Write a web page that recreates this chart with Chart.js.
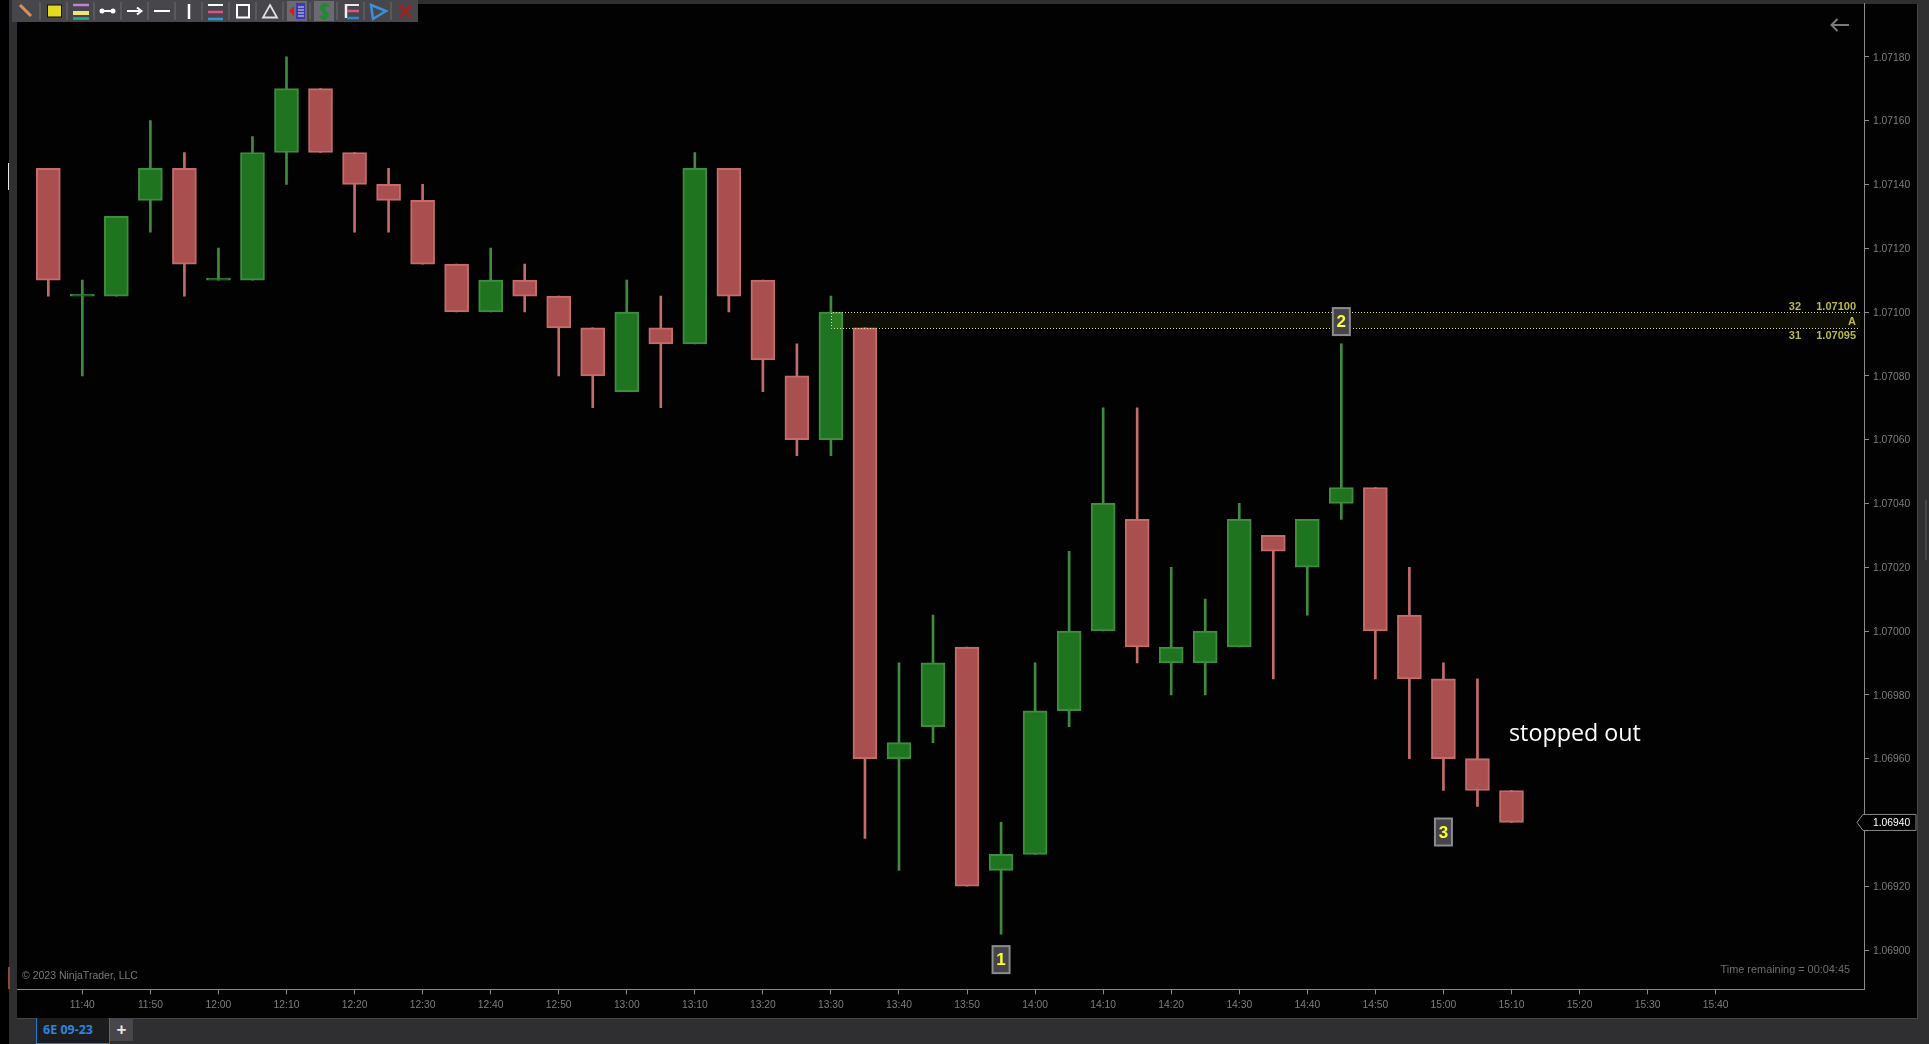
<!DOCTYPE html>
<html>
<head>
<meta charset="utf-8">
<title>6E 09-23</title>
<script src="https://cdn.jsdelivr.net/npm/chart.js@4"></script>
<style>
  html, body { margin: 0; background: #000; overflow: hidden; }
  .box { position: absolute; }
  #wrap { position: absolute; left: 0; top: 0; width: 1929px; height: 1044px; }
  #tab { left: 36px; top: 1018px; width: 72px; height: 25px; background: #1c1c1f; border: 1px solid #1f78c8; border-top: 0;
    color: #2a86de; font: bold 12.5px "Open Sans", sans-serif; line-height: 23px; text-indent: 6px; }
  #plus { left: 110px; top: 1019px; width: 23px; height: 22px; background: #47474b; color: #e6e6e6;
    font: bold 17px "Liberation Sans", sans-serif; line-height: 22px; text-align: center; }
</style>
</head>
<body>
<div class="box" style="left:9px;top:0;width:1920px;height:1044px;background:#2f2f31"></div>
<div class="box" style="left:17px;top:4px;width:1900px;height:1014px;background:#020202"></div>
<div class="box" style="left:17px;top:1018px;width:1901px;height:1px;background:#464648"></div>
<div class="box" style="left:1917px;top:4px;width:1px;height:1015px;background:#464648"></div>
<div class="box" style="left:1925px;top:500px;width:2px;height:60px;background:#47474a"></div>
<div class="box" style="left:8px;top:163px;width:1px;height:27px;background:#e8e8e8"></div>
<div class="box" style="left:8px;top:967px;width:2px;height:22px;background:#8a4a3a"></div>
<div id="wrap"><canvas id="chart" width="1929" height="1044"></canvas></div>
<svg class="box" style="left:0;top:0" width="430" height="24">
  <rect x="12" y="0" width="406" height="22" fill="#47474b"/>
  <rect x="287" y="1" width="20" height="20" fill="#6a6a70"/>
  <rect x="314" y="1" width="20" height="20" fill="#6a6a70"/>
  <g stroke="#6c6c70" stroke-width="1">
    <path d="M40 2V20M67 2V20M94 2V20M121 2V20M148 2V20M175 2V20M202 2V20M229 2V20M256 2V20M283 2V20M310 2V20M337 2V20M364 2V20M391 2V20"/>
  </g>
  <path d="M20 5L31 16" stroke="#d8915a" stroke-width="3"/>
  <rect x="47.5" y="5" width="14" height="12" fill="#e4d820" stroke="#111" stroke-width="1"/>
  <path d="M73 5H89" stroke="#c77fd8" stroke-width="2.5"/><path d="M73 13H89" stroke="#efe37a" stroke-width="4"/><path d="M73 18.500H89" stroke="#2aa89a" stroke-width="2.500"/>
  <path d="M102 11H113" stroke="#fff" stroke-width="2"/><circle cx="102" cy="11" r="2.500" fill="#fff"/><circle cx="113" cy="11" r="2.500" fill="#fff"/>
  <path d="M127 11H141M137 7.500L141.500 11L137 14.500" stroke="#fff" stroke-width="2" fill="none"/>
  <path d="M154 11H170" stroke="#fff" stroke-width="2"/>
  <path d="M189 4V19" stroke="#fff" stroke-width="2.500"/>
  <path d="M208 5H223" stroke="#fff" stroke-width="2"/><path d="M208 12H223" stroke="#e0508c" stroke-width="2.500"/><path d="M208 19H223" stroke="#2a9ad0" stroke-width="2.500"/>
  <rect x="237" y="5" width="12" height="12.500" fill="none" stroke="#fff" stroke-width="2"/>
  <path d="M270 5L277 17.500H263Z" fill="none" stroke="#e0e0e0" stroke-width="1.800"/>
  <rect x="296" y="3" width="9" height="16" fill="#3b3bb0"/><path d="M298 7H304M298 10H304M298 13H304M298 16H304" stroke="#ddd" stroke-width="1"/><path d="M289 11L294 6V16Z" fill="#e01818"/>
  <path d="M329 6C324 3 319 6 322 10C325 12 329 13 327 17C325 19 321 18 320 16M324 3V20" fill="none" stroke="#1f8a2f" stroke-width="2.500"/>
  <path d="M346 4V18" stroke="#f0f0f0" stroke-width="2.500"/><path d="M347 5H359" stroke="#e8e8e8" stroke-width="2"/><path d="M347 11H359" stroke="#e0508c" stroke-width="2.500"/><path d="M347 18H359" stroke="#2a8ad0" stroke-width="2.500"/>
  <path d="M371 5L386 11L373 19Z" fill="none" stroke="#3f8fd8" stroke-width="2.500"/>
  <path d="M399 5L411 17M411 5L399 18" stroke="#a81c1c" stroke-width="2.500"/>
</svg>
<svg class="box" style="left:1825px;top:15px" width="30" height="20">
  <path d="M6.500 10H24M12.500 4L6.500 10L12.500 16" stroke="#7a7a7a" stroke-width="2" fill="none"/>
</svg>
<div class="box" id="tab">6E 09-23</div>
<div class="box" id="plus">+</div>
<script>
/* global Chart */

const times = ['11:35', '11:40', '11:45', '11:50', '11:55', '12:00', '12:05', '12:10', '12:15', '12:20', '12:25',
  '12:30', '12:35', '12:40', '12:45', '12:50', '12:55', '13:00', '13:05', '13:10', '13:15', '13:20',
  '13:25', '13:30', '13:35', '13:40', '13:45', '13:50', '13:55', '14:00', '14:05', '14:10', '14:15',
  '14:20', '14:25', '14:30', '14:35', '14:40', '14:45', '14:50', '14:55', '15:00', '15:05', '15:10'];
const opens = [1.07145, 1.07105, 1.07105, 1.07135, 1.07145, 1.07110, 1.07110, 1.07150, 1.07170, 1.07150, 1.07140,
  1.07135, 1.07115, 1.07100, 1.07110, 1.07105, 1.07095, 1.07075, 1.07095, 1.07090, 1.07145, 1.07110,
  1.07080, 1.07060, 1.07095, 1.06960, 1.06970, 1.06995, 1.06925, 1.06930, 1.06975, 1.07000, 1.07035,
  1.06990, 1.06990, 1.06995, 1.07030, 1.07020, 1.07040, 1.07045, 1.07005, 1.06985, 1.06960, 1.06950];
const highs = [1.07145, 1.07110, 1.07130, 1.07160, 1.07150, 1.07120, 1.07155, 1.07180, 1.07170, 1.07150, 1.07145,
  1.07140, 1.07115, 1.07120, 1.07115, 1.07105, 1.07095, 1.07110, 1.07105, 1.07150, 1.07145, 1.07110,
  1.07090, 1.07105, 1.07095, 1.06990, 1.07005, 1.06995, 1.06940, 1.06990, 1.07025, 1.07070, 1.07070,
  1.07020, 1.07010, 1.07040, 1.07030, 1.07035, 1.07090, 1.07045, 1.07020, 1.06990, 1.06985, 1.06950];
const lows = [1.07105, 1.07080, 1.07105, 1.07125, 1.07105, 1.07110, 1.07110, 1.07140, 1.07150, 1.07125, 1.07125,
  1.07115, 1.07100, 1.07100, 1.07100, 1.07080, 1.07070, 1.07075, 1.07070, 1.07090, 1.07100, 1.07075,
  1.07055, 1.07055, 1.06935, 1.06925, 1.06965, 1.06920, 1.06905, 1.06930, 1.06970, 1.07000, 1.06990,
  1.06980, 1.06980, 1.06995, 1.06985, 1.07005, 1.07035, 1.06985, 1.06960, 1.06950, 1.06945, 1.06940];
const closes = [1.07110, 1.07105, 1.07130, 1.07145, 1.07115, 1.07110, 1.07150, 1.07170, 1.07150, 1.07140, 1.07135,
  1.07115, 1.07100, 1.07110, 1.07105, 1.07095, 1.07080, 1.07100, 1.07090, 1.07145, 1.07105, 1.07085,
  1.07060, 1.07100, 1.06960, 1.06965, 1.06990, 1.06920, 1.06930, 1.06975, 1.07000, 1.07040, 1.06995,
  1.06995, 1.07000, 1.07035, 1.07025, 1.07035, 1.07045, 1.07000, 1.06985, 1.06960, 1.06950, 1.06940];

const xTickLabels = ['11:40', '11:50', '12:00', '12:10', '12:20', '12:30', '12:40', '12:50', '13:00', '13:10', '13:20',
  '13:30', '13:40', '13:50', '14:00', '14:10', '14:20', '14:30', '14:40', '14:50', '15:00', '15:10', '15:20', '15:30', '15:40'];
const yTicks = [1.0718, 1.0716, 1.0714, 1.0712, 1.071, 1.0708, 1.0706, 1.0704, 1.0702, 1.07, 1.0698, 1.0696, 1.0694, 1.0692, 1.069];

const lastPrice = 1.0694;
const zoneTop = 1.071;
const zoneBottom = 1.07095;
const zoneStart = '13:30';
const markerTimes = ['13:55', '14:45', '15:00'];
const markerPrices = [1.06897, 1.07097, 1.06937];
const markerLabels = ['1', '2', '3'];

const toMin = (t) => {
  const [h, m] = t.split(':').map(Number);
  return h * 60 + m;
};
const toTime = (v) => `${Math.floor(v / 60)}:${String(v % 60).padStart(2, '0')}`;

const GREEN = '#1f751f';
const GREEN_LINE = '#3f8c3f';
const RED = '#a94f4f';
const RED_LINE = '#c46b6b';
const up = (i) => closes[i] >= opens[i];

const overlays = {
  id: 'overlays',
  // under the tick labels, which sit on z 1
  beforeDatasetsDraw(chart) {
    const { ctx, scales: { y } } = chart;
    const py = y.getPixelForValue(lastPrice);
    ctx.save();
    ctx.beginPath();
    ctx.moveTo(1857, py);
    ctx.lineTo(1863, py - 8);
    ctx.lineTo(1916, py - 8);
    ctx.lineTo(1916, py + 8);
    ctx.lineTo(1863, py + 8);
    ctx.closePath();
    ctx.fillStyle = '#000';
    ctx.fill();
    ctx.strokeStyle = '#8a8a8a';
    ctx.lineWidth = 1;
    ctx.stroke();
    ctx.restore();
  },
  afterDatasetsDraw(chart) {
    const { ctx, scales: { x, y }, chartArea } = chart;
    const x0 = Math.round(x.getPixelForValue(toMin(zoneStart))) + 0.5;
    const x1 = chartArea.right - 4;
    const yTop = Math.round(y.getPixelForValue(zoneTop)) + 0.5;
    const yBot = Math.round(y.getPixelForValue(zoneBottom)) + 0.5;

    ctx.save();
    ctx.fillStyle = 'rgba(235,235,70,0.06)';
    ctx.fillRect(x0, yTop, x1 - x0, yBot - yTop);
    ctx.strokeStyle = '#dcdc96';
    ctx.lineWidth = 1;
    ctx.setLineDash([1, 2]);
    ctx.beginPath();
    ctx.moveTo(x1, yTop);
    ctx.lineTo(x0, yTop);
    ctx.lineTo(x0, yBot);
    ctx.lineTo(x1, yBot);
    ctx.stroke();
    ctx.setLineDash([]);

    ctx.fillStyle = '#b9b94c';
    ctx.font = 'bold 11px "Liberation Sans", sans-serif';
    ctx.textBaseline = 'middle';
    ctx.textAlign = 'right';
    ctx.fillText('32', 1801, yTop - 6);
    ctx.fillText('1.07100', 1856, yTop - 6);
    ctx.fillText('A', 1856, (yTop + yBot) / 2 + 1);
    ctx.fillText('31', 1801, yBot + 7);
    ctx.fillText('1.07095', 1856, yBot + 7);

    markerLabels.forEach((label, i) => {
      const cx = x.getPixelForValue(toMin(markerTimes[i]));
      const cy = y.getPixelForValue(markerPrices[i]);
      ctx.fillStyle = '#44444a';
      ctx.fillRect(cx - 8.5, cy - 13.5, 17, 27);
      ctx.strokeStyle = '#8c8c8c';
      ctx.lineWidth = 2;
      ctx.strokeRect(cx - 8.5, cy - 13.5, 17, 27);
      ctx.fillStyle = '#ffff2e';
      ctx.font = 'bold 17px "Liberation Sans", sans-serif';
      ctx.textAlign = 'center';
      ctx.fillText(label, cx, cy + 1);
    });

    ctx.fillStyle = '#fff';
    ctx.font = '23.3px "Open Sans", sans-serif';
    ctx.textAlign = 'left';
    ctx.fillText('stopped out', 1509, 734);

    ctx.font = '10.5px "Liberation Sans", sans-serif';
    ctx.fillStyle = '#7a7a7a';
    ctx.fillText('© 2023 NinjaTrader, LLC', 22, 976);
    ctx.font = '10.9px "Liberation Sans", sans-serif';
    ctx.fillStyle = '#6e6e6e';
    ctx.textAlign = 'right';
    ctx.fillText('Time remaining = 00:04:45', 1850, 970);
    ctx.restore();
  }
};

const chart = new Chart(document.getElementById('chart').getContext('2d'), {
  type: 'bar',
  data: {
    datasets: [
      {
        label: 'wick',
        order: 2,
        barThickness: 2,
        borderWidth: 0,
        data: times.map((t, i) => ({ x: toMin(t), y: [lows[i], highs[i]] })),
        backgroundColor: (c) => (up(c.dataIndex) ? GREEN_LINE : RED_LINE)
      },
      {
        label: 'body',
        order: 1,
        barThickness: 24,
        minBarLength: 2,
        borderWidth: 2,
        borderSkipped: false,
        data: times.map((t, i) => ({ x: toMin(t), y: [opens[i], closes[i]] })),
        backgroundColor: (c) => (up(c.dataIndex) ? GREEN : RED),
        borderColor: (c) => (up(c.dataIndex) ? GREEN_LINE : RED_LINE)
      }
    ]
  },
  options: {
    responsive: false,
    animation: false,
    grouped: false,
    layout: { padding: { left: 17, top: 3.5, right: 0, bottom: 26 } },
    plugins: { legend: { display: false }, tooltip: { enabled: false }, title: { display: false } },
    scales: {
      x: {
        type: 'linear',
        offset: false,
        min: 690.4,
        max: 961.8,
        afterFit: (s) => { s.height = 28.7; s.paddingLeft = 0; s.paddingRight = 0; },
        afterBuildTicks: (s) => { s.ticks = xTickLabels.map((t) => ({ value: toMin(t) })); },
        grid: { offset: false, drawOnChartArea: false, color: '#8a8a8a', tickLength: 5 },
        border: { color: '#8a8a8a' },
        ticks: {
          autoSkip: false,
          maxRotation: 0,
          padding: 5,
          color: '#7d7d7d',
          font: { family: '"Liberation Sans", sans-serif', size: 10.3 },
          callback: (v) => toTime(v)
        }
      },
      y: {
        position: 'right',
        min: 1.068877,
        max: 1.071967,
        afterFit: (s) => { s.width = 65; s.paddingTop = 0; s.paddingBottom = 0; },
        afterBuildTicks: (s) => { s.ticks = yTicks.map((v) => ({ value: v })); },
        grid: { drawOnChartArea: false, color: '#8a8a8a', tickLength: 5 },
        border: { color: '#8a8a8a' },
        ticks: {
          z: 1,
          autoSkip: false,
          padding: 4,
          labelOffset: 1,
          color: (c) => (c.tick.value === lastPrice ? '#ffffff' : '#7d7d7d'),
          font: { family: '"Liberation Sans", sans-serif', size: 10.3 },
          callback: (v) => v.toFixed(5)
        }
      }
    }
  },
  plugins: [overlays]
});
</script>
</body>
</html>
